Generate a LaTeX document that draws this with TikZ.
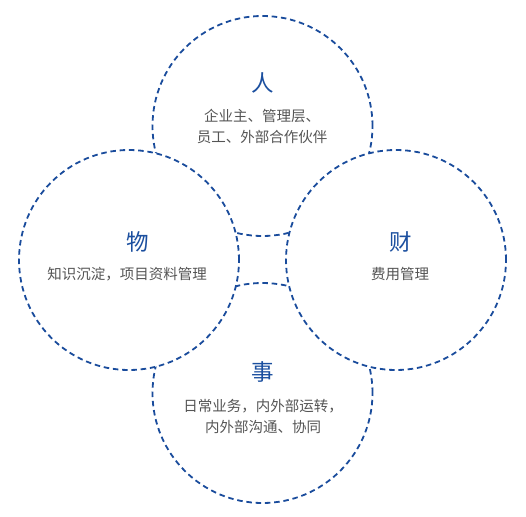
\documentclass[tikz,border=0pt]{standalone}
\usepackage{fontspec}
\setmainfont{Noto Sans CJK SC}
\definecolor{ringblue}{HTML}{1A4C9C}
\definecolor{titleblue}{HTML}{1B4F9F}
\definecolor{subgray}{HTML}{555555}
\begin{document}
\begin{tikzpicture}[x=1pt,y=-1pt,
  ring/.style={draw=ringblue, fill=white, line width=1.8pt, dash pattern=on 5.5pt off 3.8pt},
  title/.style={text=titleblue, font=\fontsize{22.5}{22.5}\selectfont, inner sep=0pt},
  sub/.style={text=subgray, font=\fontsize{14.5}{21}\selectfont, align=center, inner sep=0pt}]
\useasboundingbox (0,0) rectangle (526,516);
\coordinate (ct) at (262.5,126);
\coordinate (cl) at (129,260);
\coordinate (cr) at (396,260);
\coordinate (cb) at (262.5,393);
\foreach \c in {ct,cb,cl,cr} \path[ring] (\c) circle[radius=110pt];
\node[title] (tr) at (263,83) {人};
\node[sub] (sr) at (262,126) {企业主、管理层、\\员工、外部合作伙伴};
\node[title] (tw) at (138,242) {物};
\node[sub] (sw) at (127,274) {知识沉淀，项目资料管理};
\node[title] (tc) at (401,242) {财};
\node[sub] (sc) at (400,274) {费用管理};
\node[title] (ts) at (263,372) {事};
\node[sub] (ss) at (263,416) {日常业务，内外部运转，\\内外部沟通、协同};
\end{tikzpicture}
\end{document}
